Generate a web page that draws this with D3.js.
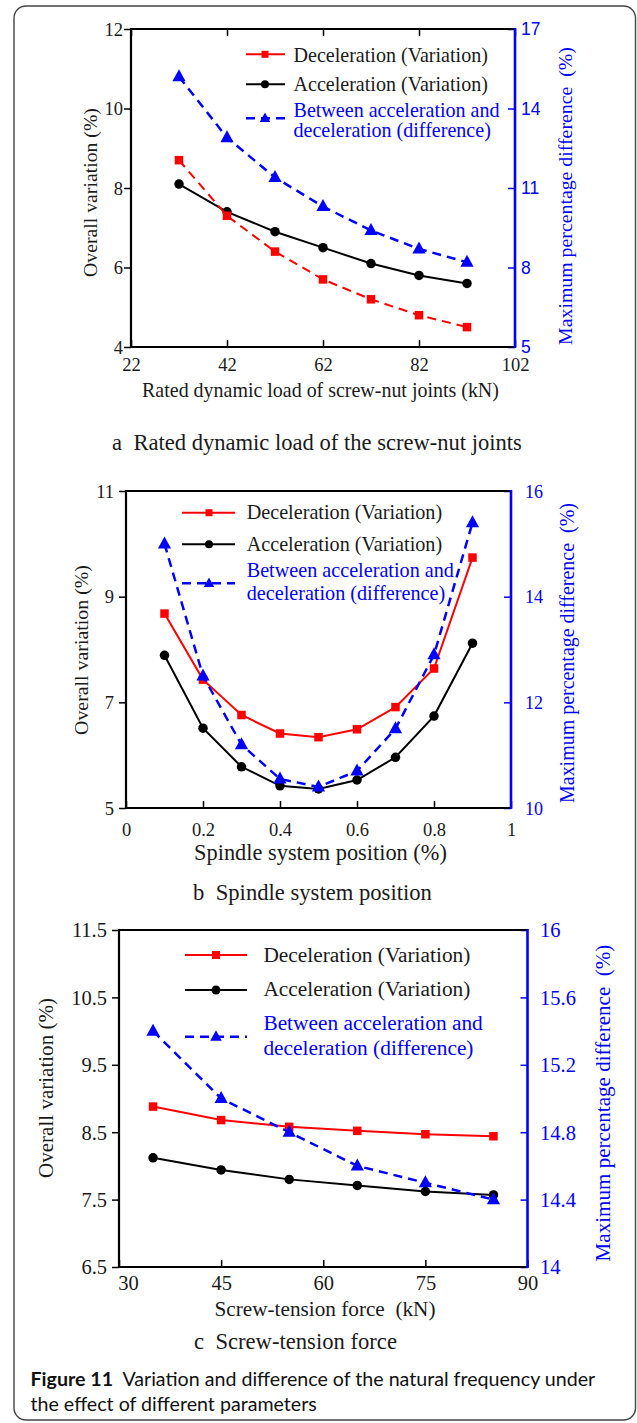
<!DOCTYPE html>
<html><head><meta charset="utf-8">
<script src="https://cdn.jsdelivr.net/npm/d3@7"></script>
<style>body{margin:0;background:#fff}svg{display:block}text{white-space:pre}</style>
</head><body>
<svg id="fig" width="637" height="1423"></svg>
<script>
// ---------- DATA ----------
// Panel a: rated dynamic load of screw-nut joints (kN)
const aLoad = [32, 42, 52, 62, 72, 82, 92];
const aDecel = [8.7, 7.3, 6.4, 5.7, 5.2, 4.8, 4.5];
const aAccel = [8.1, 7.4, 6.9, 6.5, 6.1, 5.8, 5.6];
const aDiff = [15.2, 12.9, 11.4, 10.3, 9.4, 8.7, 8.2];
const aXTicks = [22, 42, 62, 82, 102];
const aYTicks = [4, 6, 8, 10, 12];
const aY2Ticks = [5, 8, 11, 14, 17];
// Panel b: spindle system position
const bPos = [0.1, 0.2, 0.3, 0.4, 0.5, 0.6, 0.7, 0.8, 0.9];
const bDecel = [8.68, 7.43, 6.76, 6.41, 6.34, 6.49, 6.91, 7.64, 9.74];
const bAccel = [7.89, 6.51, 5.78, 5.42, 5.36, 5.53, 5.96, 6.74, 8.12];
const bDiff = [15.0, 12.5, 11.2, 10.55, 10.4, 10.7, 11.5, 12.9, 15.4];
const bXTicks = [0, 0.2, 0.4, 0.6, 0.8, 1];
const bYTicks = [5, 7, 9, 11];
const bY2Ticks = [10, 12, 14, 16];
// Panel c: screw-tension force (kN)
const cForce = [35, 45, 55, 65, 75, 85];
const cDecel = [8.88, 8.68, 8.58, 8.52, 8.47, 8.44];
const cAccel = [8.12, 7.94, 7.80, 7.71, 7.62, 7.57];
const cDiff = [15.4, 15.0, 14.8, 14.6, 14.5, 14.4];
const cXTicks = [30, 45, 60, 75, 90];
const cYTicks = [6.5, 7.5, 8.5, 9.5, 10.5, 11.5];
const cY2Ticks = [14, 14.4, 14.8, 15.2, 15.6, 16];
// Texts
const legendLabels = ["Deceleration (Variation)", "Acceleration (Variation)", "Between acceleration and", "deceleration (difference)"];
const yTitle = "Overall variation (%)";
const y2Title = "Maximum percentage difference  (%)";
const xTitles = ["Rated dynamic load of screw-nut joints (kN)", "Spindle system position (%)", "Screw-tension force  (kN)"];
const subCaptions = ["a  Rated dynamic load of the screw-nut joints", "b  Spindle system position", "c  Screw-tension force"];
const captionBold = "Figure 11";
const captionLine1 = "  Variation and difference of the natural frequency under";
const captionLine2 = "the effect of different parameters";

// ---------- STYLE ----------
const SERIF = "Liberation Serif, DejaVu Serif, Noto Serif, Times New Roman, serif";
const SANS = "Liberation Sans, Arial, DejaVu Sans, sans-serif";
const CAPF = "Lato, Open Sans, sans-serif";
const RED = "#ff0000", BLUE = "#0000ff", BLACK = "#000", TXT = "#1a1a1a";

const svg = d3.select("#fig");

// frame border
svg.append("rect").attr("x", 14).attr("y", 6).attr("width", 621.5).attr("height", 1414)
  .attr("rx", 12).attr("fill", "none").attr("stroke", "#444").attr("stroke-width", 1.4);

function txt(g, font) { return g.append("text").style("font-family", font); }
function measure(str, font, size, weight) {
  const t = txt(svg, font).style("font-size", size + "px").style("font-weight", weight || "normal").text(str);
  const w = t.node().getComputedTextLength(); t.remove(); return w;
}
function fitSize(str, font, w, weight) { return 20 * w / measure(str, font, 20, weight); }

function triPath(s) { return `M0,${-0.62*s}L${0.55*s},${0.38*s}L${-0.55*s},${0.38*s}Z`; }
function marker(g, kind, cx, cy, s, color) {
  if (kind === "sq") g.append("rect").attr("x", cx - s/2).attr("y", cy - s/2).attr("width", s).attr("height", s).attr("fill", color);
  else if (kind === "ci") g.append("circle").attr("cx", cx).attr("cy", cy).attr("r", s/2).attr("fill", color);
  else g.append("path").attr("d", triPath(s)).attr("transform", `translate(${cx},${cy})`).attr("fill", color);
}

function drawPanel(p) {
  const g = svg.append("g");
  const x = d3.scaleLinear().domain(p.xDom).range([p.L, p.R]);
  const y = d3.scaleLinear().domain(p.yDom).range([p.B, p.T]);
  const y2 = d3.scaleLinear().domain(p.y2Dom).range([p.B, p.T]);
  const TK = 7;

  // bottom axis (ticks inward)
  const gb = g.append("g").attr("transform", `translate(0,${p.B})`)
    .call(d3.axisBottom(x).tickValues(p.xTicks).tickSizeInner(-TK).tickSizeOuter(0).tickFormat(p.xFmt));
  gb.select(".domain").remove();
  gb.selectAll("line").attr("stroke", BLACK).attr("stroke-width", 1.5);
  gb.selectAll("text").attr("y", p.xLabOff).attr("dy", null).style("font-family", SERIF)
    .style("font-size", p.tickFs + "px").attr("fill", TXT)
    .attr("x", (d, i) => i === 0 ? (p.firstShift || 0) : 0);
  if (p.topTicks) {
    const gt = g.append("g").attr("transform", `translate(0,${p.T})`)
      .call(d3.axisTop(x).tickValues(p.xTicks).tickSizeInner(-TK).tickSizeOuter(0).tickFormat(""));
    gt.select(".domain").remove(); gt.selectAll("text").remove();
    gt.selectAll("line").attr("stroke", BLACK).attr("stroke-width", 1.5);
  }
  // left axis (ticks outward)
  const gl = g.append("g").attr("transform", `translate(${p.L},0)`)
    .call(d3.axisLeft(y).tickValues(p.yTicks).tickSizeInner(TK).tickSizeOuter(0).tickFormat(p.yFmt));
  gl.select(".domain").remove();
  gl.selectAll("line").attr("stroke", BLACK).attr("stroke-width", 1.5);
  gl.selectAll("text").attr("x", -p.yLabDx).attr("dy", "0.34em").style("font-family", SERIF)
    .style("font-size", p.tickFs + "px").attr("fill", TXT);
  // right axis (ticks inward, blue)
  const gr = g.append("g").attr("transform", `translate(${p.R},0)`)
    .call(d3.axisRight(y2).tickValues(p.y2Ticks).tickSizeInner(-TK).tickSizeOuter(0).tickFormat(p.y2Fmt));
  gr.select(".domain").remove();
  gr.selectAll("line").attr("stroke", BLUE).attr("stroke-width", 1.5);
  gr.selectAll("text").attr("x", p.y2LabDx).attr("dy", "0.34em").style("font-family", p.y2Font)
    .style("font-size", p.y2Fs + "px").attr("fill", BLUE);

  // plot frame
  g.append("path").attr("d", `M${p.R},${p.T}H${p.L}V${p.B}H${p.R}`)
    .attr("fill", "none").attr("stroke", BLACK).attr("stroke-width", 2.2);
  g.append("line").attr("x1", p.R).attr("x2", p.R).attr("y1", p.T - 1.1).attr("y2", p.B + 1.1)
    .attr("stroke", BLUE).attr("stroke-width", 2.6);

  // series
  const series = [
    {vals: p.accel, sc: y, color: BLACK, dash: null, mk: "ci", w: 2},
    {vals: p.decel, sc: y, color: RED, dash: p.decelDash ? "9,6" : null, mk: "sq", w: 2},
    {vals: p.diff, sc: y2, color: BLUE, dash: "9,6", mk: "tr", w: 2.5}
  ];
  series.forEach(s => {
    const ln = d3.line().x((d, i) => x(p.xs[i])).y(d => s.sc(d));
    g.append("path").attr("d", ln(s.vals)).attr("fill", "none").attr("stroke", s.color)
      .attr("stroke-width", s.w).attr("stroke-dasharray", s.dash);
    s.vals.forEach((v, i) => marker(g, s.mk, x(p.xs[i]), s.sc(v), s.mk === "sq" ? 8.5 : (s.mk === "ci" ? 9.5 : 12), s.color));
  });

  // legend
  const lg = p.leg;
  const lfs = fitSize(legendLabels[0], SERIF, lg.w);
  const items = [
    {color: RED, dash: null, mk: "sq", y: lg.ys[0], w: 2},
    {color: BLACK, dash: null, mk: "ci", y: lg.ys[1], w: 2},
    {color: BLUE, dash: "9,6", mk: "tr", y: lg.ys[2], w: 2.5}
  ];
  items.forEach(it => {
    g.append("line").attr("x1", lg.x0).attr("x2", lg.x1).attr("y1", it.y).attr("y2", it.y)
      .attr("stroke", it.color).attr("stroke-width", it.w).attr("stroke-dasharray", it.dash);
    marker(g, it.mk, lg.mx, it.y, it.mk === "sq" ? lg.ms : (it.mk === "ci" ? lg.ms + 1 : lg.ms + 2.5), it.color);
  });
  legendLabels.forEach((t, i) => {
    txt(g, SERIF).attr("x", lg.tx).attr("y", lg.bl[i]).style("font-size", lfs + "px")
      .attr("fill", i < 2 ? TXT : BLUE).text(t);
  });

  // axis titles
  txt(g, SERIF).attr("x", p.xt.cx).attr("y", p.xt.bl).attr("text-anchor", "middle")
    .style("font-size", fitSize(p.xTitle, SERIF, p.xt.w) + "px").attr("fill", TXT).text(p.xTitle);
  txt(g, SERIF).attr("transform", `translate(${p.yt.bx},${p.yt.cy}) rotate(-90)`).attr("text-anchor", "middle")
    .style("font-size", fitSize(yTitle, SERIF, p.yt.w) + "px").attr("fill", TXT).text(yTitle);
  txt(g, SERIF).attr("transform", `translate(${p.y2t.bx},${p.y2t.cy}) rotate(-90)`).attr("text-anchor", "middle")
    .style("font-size", fitSize(y2Title, SERIF, p.y2t.w) + "px").attr("fill", BLUE).text(y2Title);
  // sub caption
  txt(g, SERIF).attr("x", p.sc.cx).attr("y", p.sc.bl).attr("text-anchor", "middle")
    .style("font-size", fitSize(p.sub, SERIF, p.sc.w) + "px").attr("fill", TXT).text(p.sub);
}

const fmtPlain = d => String(d);
const fmt1 = d3.format(".1f");

drawPanel({
  L: 131, R: 515, T: 29, B: 347,
  xDom: [22, 102], yDom: [4, 12], y2Dom: [5, 17],
  xTicks: aXTicks, yTicks: aYTicks, y2Ticks: aY2Ticks,
  xFmt: fmtPlain, yFmt: fmtPlain, y2Fmt: fmtPlain,
  xs: aLoad, decel: aDecel, accel: aAccel, diff: aDiff, decelDash: true, topTicks: true,
  tickFs: 18.5, xLabOff: 24, yLabDx: 8, y2LabDx: 6, y2Font: SANS, y2Fs: 17.5,
  leg: {x0: 246, x1: 285, mx: 265, ms: 7, ys: [54.3, 84.3, 118.3], tx: 293.5, bl: [61.5, 91, 117, 136.5], w: 194.5},
  xTitle: xTitles[0], xt: {cx: 320.5, bl: 397, w: 357},
  yt: {bx: 97, cy: 192.5, w: 169}, y2t: {bx: 572, cy: 196, w: 298},
  sub: subCaptions[0], sc: {cx: 317, bl: 450, w: 410}
});

drawPanel({
  L: 126, R: 511, T: 491, B: 808,
  xDom: [0, 1], yDom: [5, 11], y2Dom: [10, 16],
  xTicks: bXTicks, yTicks: bYTicks, y2Ticks: bY2Ticks,
  xFmt: fmtPlain, yFmt: fmtPlain, y2Fmt: fmtPlain,
  xs: bPos, decel: bDecel, accel: bAccel, diff: bDiff, decelDash: false, topTicks: false,
  tickFs: 18.5, xLabOff: 27.5, yLabDx: 12, y2LabDx: 14, y2Font: SERIF, y2Fs: 18,
  leg: {x0: 182, x1: 235, mx: 209, ms: 7, ys: [512.7, 544.3, 583.3], tx: 246.7, bl: [519.3, 551, 576.7, 600], w: 195.6},
  xTitle: xTitles[1], xt: {cx: 320.5, bl: 860, w: 253},
  yt: {bx: 88, cy: 650, w: 170}, y2t: {bx: 574, cy: 653, w: 300},
  sub: subCaptions[1], sc: {cx: 312.5, bl: 900, w: 239}
});

drawPanel({
  L: 119, R: 527.5, T: 930, B: 1267,
  xDom: [30, 90], yDom: [6.5, 11.5], y2Dom: [14, 16],
  xTicks: cXTicks, yTicks: cYTicks, y2Ticks: cY2Ticks,
  xFmt: fmtPlain, yFmt: fmt1, y2Fmt: d => d3.format("~g")(d),
  xs: cForce, decel: cDecel, accel: cAccel, diff: cDiff, decelDash: false, topTicks: false,
  tickFs: 20.5, xLabOff: 23, yLabDx: 12, y2LabDx: 12.5, y2Font: SERIF, y2Fs: 20.5, firstShift: 9,
  leg: {x0: 185, x1: 247, mx: 216, ms: 8, ys: [955, 990, 1036.7], tx: 263.4, bl: [961.5, 996, 1030, 1055], w: 207},
  xTitle: xTitles[2], xt: {cx: 325, bl: 1316, w: 221},
  yt: {bx: 53, cy: 1088, w: 180}, y2t: {bx: 610, cy: 1103, w: 317},
  sub: subCaptions[2], sc: {cx: 295.5, bl: 1349, w: 203}
});

// figure caption
(function () {
  const t = txt(svg, CAPF).attr("x", 30.5).attr("y", 1386).style("font-size", "20px").attr("fill", "#111");
  t.append("tspan").style("font-weight", "bold").text(captionBold);
  t.append("tspan").text(captionLine1);
  const fs = 20 * 565 / t.node().getComputedTextLength();
  t.style("font-size", fs + "px");
  txt(svg, CAPF).attr("x", 30.5).attr("y", 1411).style("font-size", fs + "px")
    .attr("fill", "#111").text(captionLine2);
})();
</script>
</body></html>
